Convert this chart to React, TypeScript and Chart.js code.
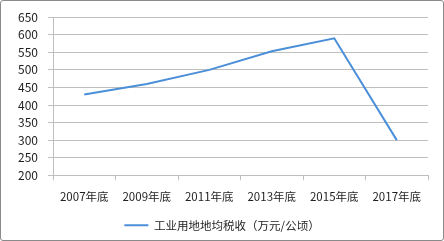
import React, { useEffect, useRef } from "react";
import { Chart, registerables } from "chart.js";

Chart.register(...registerables);

const categories: string[] = ["2007年底", "2009年底", "2011年底", "2013年底", "2015年底", "2017年底"];
const taxValues: number[] = [430, 460, 500, 553, 590, 300];
const seriesLabel = "工业用地地均税收（万元/公顷）";
const yMin = 200;
const yMax = 650;
const yStep = 50;

const FONT = "'Noto Sans CJK SC', 'Noto Sans', sans-serif";
const TEXT = "#1e1e1e";

export default function App() {
  const ref = useRef<HTMLCanvasElement | null>(null);

  useEffect(() => {
    if (!ref.current) return;
    const chart = new Chart(ref.current, {
      type: "line",
      data: {
        labels: categories,
        datasets: [
          {
            label: seriesLabel,
            data: taxValues,
            borderColor: "#4A8FD8",
            backgroundColor: "#4A8FD8",
            borderWidth: 2,
            pointRadius: 0,
            pointHoverRadius: 0,
            tension: 0,
            fill: false,
          },
        ],
      },
      options: {
        animation: false,
        responsive: false,
        maintainAspectRatio: false,
        layout: { padding: { left: 0, right: 0, top: 15, bottom: 0 } },
        plugins: {
          tooltip: { enabled: false },
          legend: {
            display: true,
            position: "bottom",
            labels: {
              usePointStyle: true,
              pointStyle: "line",
              pointStyleWidth: 24,
              padding: 1.25,
              color: TEXT,
              font: { family: FONT, size: 11.5 },
            },
          },
        },
        scales: {
          x: {
            type: "category",
            offset: true,
            grid: {
              display: true,
              offset: true,
              drawOnChartArea: false,
              drawTicks: true,
              tickLength: 5,
              color: "#BFBFBF",
            },
            border: { display: true, color: "#BFBFBF" },
            ticks: {
              color: TEXT,
              padding: 9,
              maxRotation: 0,
              autoSkip: false,
              font: { family: FONT, size: 11.5 },
            },
            afterFit: (scale: any) => {
              scale.height = 43;
            },
          },
          y: {
            min: yMin,
            max: yMax,
            grid: {
              color: "#BFBFBF",
              drawTicks: true,
              tickLength: 5,
            },
            border: { display: true, color: "#BFBFBF" },
            ticks: {
              stepSize: yStep,
              color: TEXT,
              padding: 10,
              font: { family: FONT, size: 12 },
            },
            afterFit: (scale: any) => {
              scale.width = 53;
            },
          },
          yRight: {
            position: "right",
            display: true,
            grid: { display: false },
            border: { display: false },
            ticks: { display: false },
            afterFit: (scale: any) => {
              scale.width = 16;
            },
          },
        },
      },
    });
    return () => chart.destroy();
  }, []);

  return (
    <div style={{ position: "fixed", left: 0, top: 0, width: 444, height: 241, background: "#fff" }}>
      <canvas ref={ref} width={444} height={241} style={{ display: "block", width: 444, height: 241 }} />
      <div
        style={{
          position: "absolute",
          left: 0,
          top: 0,
          width: 444,
          height: 241,
          boxSizing: "border-box",
          border: "1px solid #8a8a8a",
          borderRadius: 3,
          pointerEvents: "none",
        }}
      />
    </div>
  );
}
